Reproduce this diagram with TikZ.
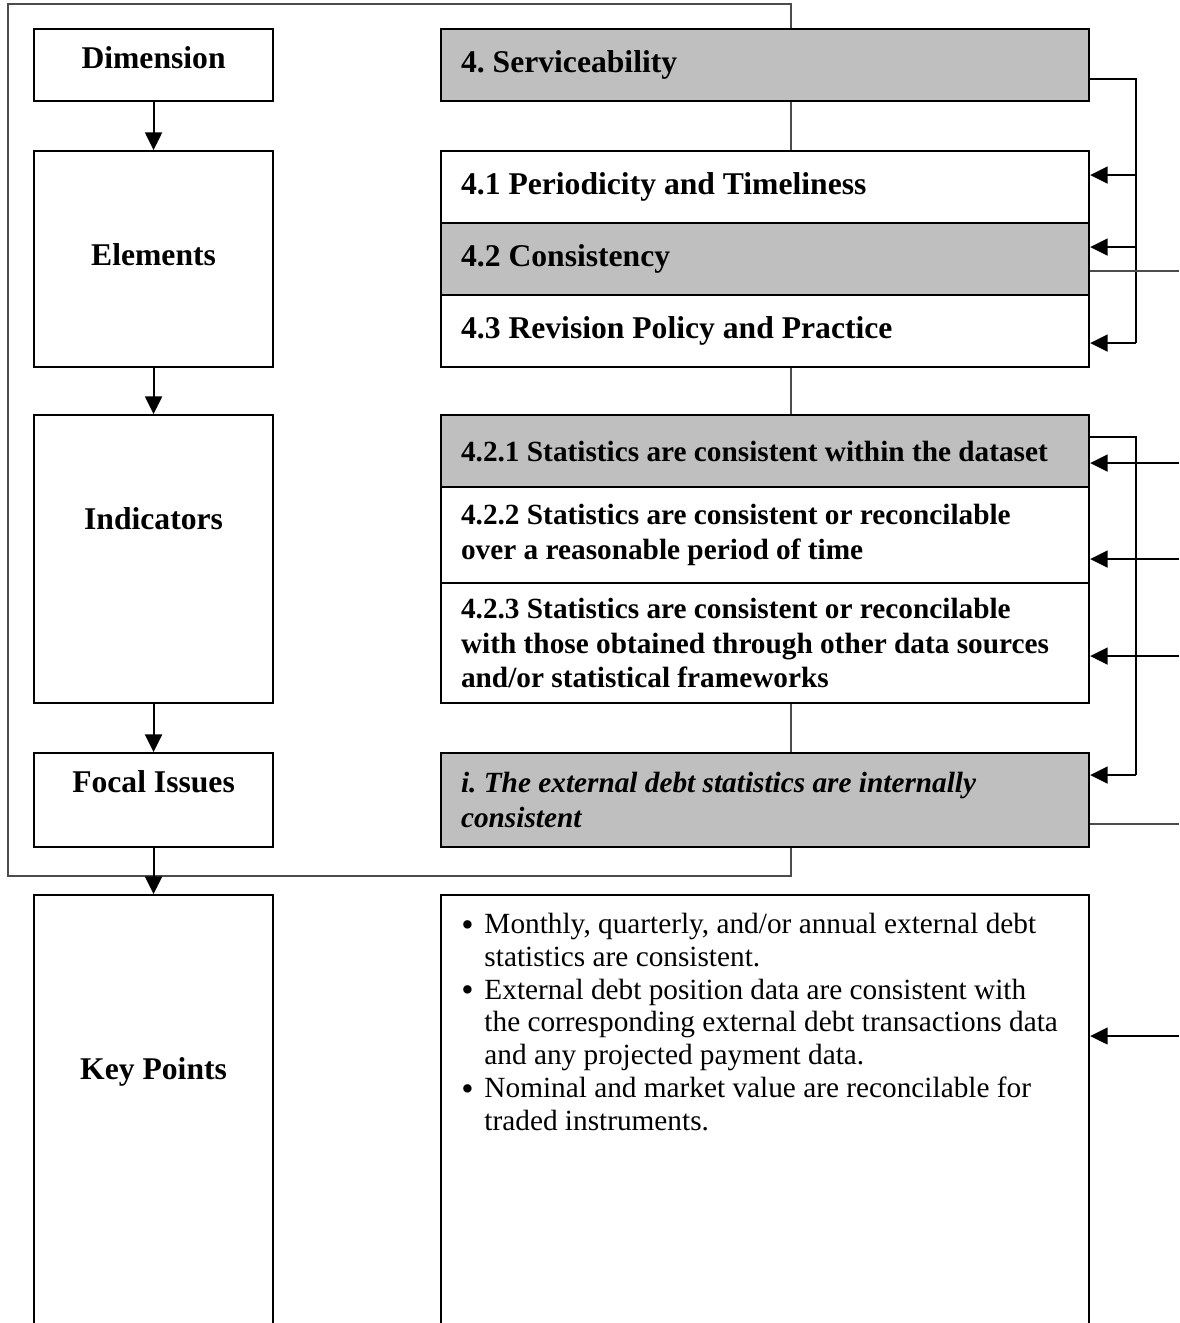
\documentclass[tikz,border=0pt]{standalone}
\usepackage{fontspec}
\setmainfont{Liberation Serif}
\usetikzlibrary{arrows.meta,positioning,calc,backgrounds}
\frenchspacing

\begin{document}
\begin{tikzpicture}[
  x=0.015cm, y=-0.015cm,
  font=\fontsize{13.5}{15}\selectfont\bfseries,
  level/.style={draw, line width=0.9pt, fill=white, minimum width=3.585cm, anchor=north west, inner sep=0pt},
  entry/.style={draw, line width=0.9pt, fill=white, align=flush left, text width=9.12cm, minimum width=9.72cm, anchor=north west, inner sep=0pt},
  shaded/.style={fill=black!25},
  small/.style={font=\fontsize{12.5}{14.7}\selectfont\bfseries},
  arrow/.style={-{Triangle[length=7.5pt,width=7.2pt]}, line width=0.9pt},
  link/.style={line width=0.9pt},
  thin/.style={line width=0.5pt, black!70}
]
\useasboundingbox (0,0) rectangle (1179,1323);

% left column
\node[level, minimum height=1.08cm, label={[anchor=center,yshift=-0.45cm]north:Dimension}] (dimension) at (33,28) {};
\node[level, minimum height=3.24cm, label={[anchor=center,yshift=-1.575cm]north:Elements}] (elements) at (33,150) {};
\node[level, minimum height=4.32cm, label={[anchor=center,yshift=-1.575cm]north:Indicators}] (indicators) at (33,414) {};
\node[level, minimum height=1.41cm, label={[anchor=center,yshift=-0.45cm]north:Focal Issues}] (focal) at (33,752) {};
\node[level, minimum height=6.69cm, label={[anchor=center,yshift=-2.67cm]north:Key Points}] (keypoints) at (33,894) {};

% right column
\node[entry, shaded, minimum height=1.08cm] (serv) at (440,28) {4. Serviceability};
\node[entry, minimum height=1.08cm] (p41) at (440,150) {4.1 Periodicity and Timeliness};
\node[entry, shaded, minimum height=1.08cm] (p42) at (440,222) {4.2 Consistency};
\node[entry, minimum height=1.08cm] (p43) at (440,294) {4.3 Revision Policy and Practice};

\node[entry, small, shaded, minimum height=1.08cm] (p421) at (440,414) {4.2.1 Statistics are consistent within the dataset};
\node[entry, small, minimum height=1.44cm] (p422) at (440,486) {4.2.2 Statistics are consistent or reconcilable\\over a reasonable period of time};
\node[entry, small, minimum height=1.8cm] (p423) at (440,582) {4.2.3 Statistics are consistent or reconcilable\\with those obtained through other data sources\\and/or statistical frameworks};
\node[entry, small, shaded, minimum height=1.41cm] (issue) at (440,752) {\itshape i. The external debt statistics are internally\\consistent};
\node[entry, minimum height=6.69cm] (keylist) at (440,894) {};
\node[below right=0.24cm and 0.315cm of keylist.north west, anchor=north west, inner sep=0pt,
  font=\fontsize{12.5}{14}\selectfont\mdseries] (keytext) {%
  \begin{tabular}{@{}p{0.345cm}@{}l@{}}
  \raisebox{-1.2pt}{\fontsize{15}{14}\selectfont\textbullet} & Monthly, quarterly, and/or annual external debt\\
   & statistics are consistent.\\
  \raisebox{-1.2pt}{\fontsize{15}{14}\selectfont\textbullet} & External debt position data are consistent with\\
   & the corresponding external debt transactions data\\
   & and any projected payment data.\\
  \raisebox{-1.2pt}{\fontsize{15}{14}\selectfont\textbullet} & Nominal and market value are reconcilable for\\
   & traded instruments.
  \end{tabular}};

\coordinate (bus) at (1136,0);
\coordinate (rim) at (1179,0);

% left arrows
\draw[arrow] (dimension) -- (elements);
\draw[arrow] (elements) -- (indicators);
\draw[arrow] (indicators) -- (focal);
\draw[arrow] (focal) -- (keypoints);

% elements bus
\draw[link] ($(serv.east)+(0,14)$) -| ($(bus |- p43.east)+(0,12)$);
\draw[arrow] ($(bus |- p41.east)+(0,-12)$) -- ($(p41.east)+(0,-12)$);
\draw[arrow] ($(bus |- p42.east)+(0,-12)$) -- ($(p42.east)+(0,-12)$);
\draw[arrow] ($(bus |- p43.east)+(0,12)$) -- ($(p43.east)+(0,12)$);
\draw[thin] ($(p42.east)+(0,12)$) -- ($(rim |- p42.east)+(0,12)$);

% indicators bus
\draw[link] ($(p421.east)+(0,-14)$) -| ($(bus |- issue.east)+(0,-25)$);
\draw[arrow] ($(bus |- issue.east)+(0,-25)$) -- ($(issue.east)+(0,-25)$);
\draw[arrow] ($(rim |- p421.east)+(0,12)$) -- ($(p421.east)+(0,12)$);
\draw[arrow] ($(rim |- p422.east)+(0,24)$) -- ($(p422.east)+(0,24)$);
\draw[arrow] ($(rim |- p423.east)+(0,13)$) -- ($(p423.east)+(0,13)$);
\draw[thin] ($(issue.east)+(0,24)$) -- ($(rim |- issue.east)+(0,24)$);
\draw[arrow] ($(rim |- keylist.north east)+(0,142)$) -- ($(keylist.north east)+(0,142)$);

\begin{scope}[on background layer]
\draw[thin] (8,4) rectangle (791,876);
\end{scope}
\end{tikzpicture}
\end{document}
